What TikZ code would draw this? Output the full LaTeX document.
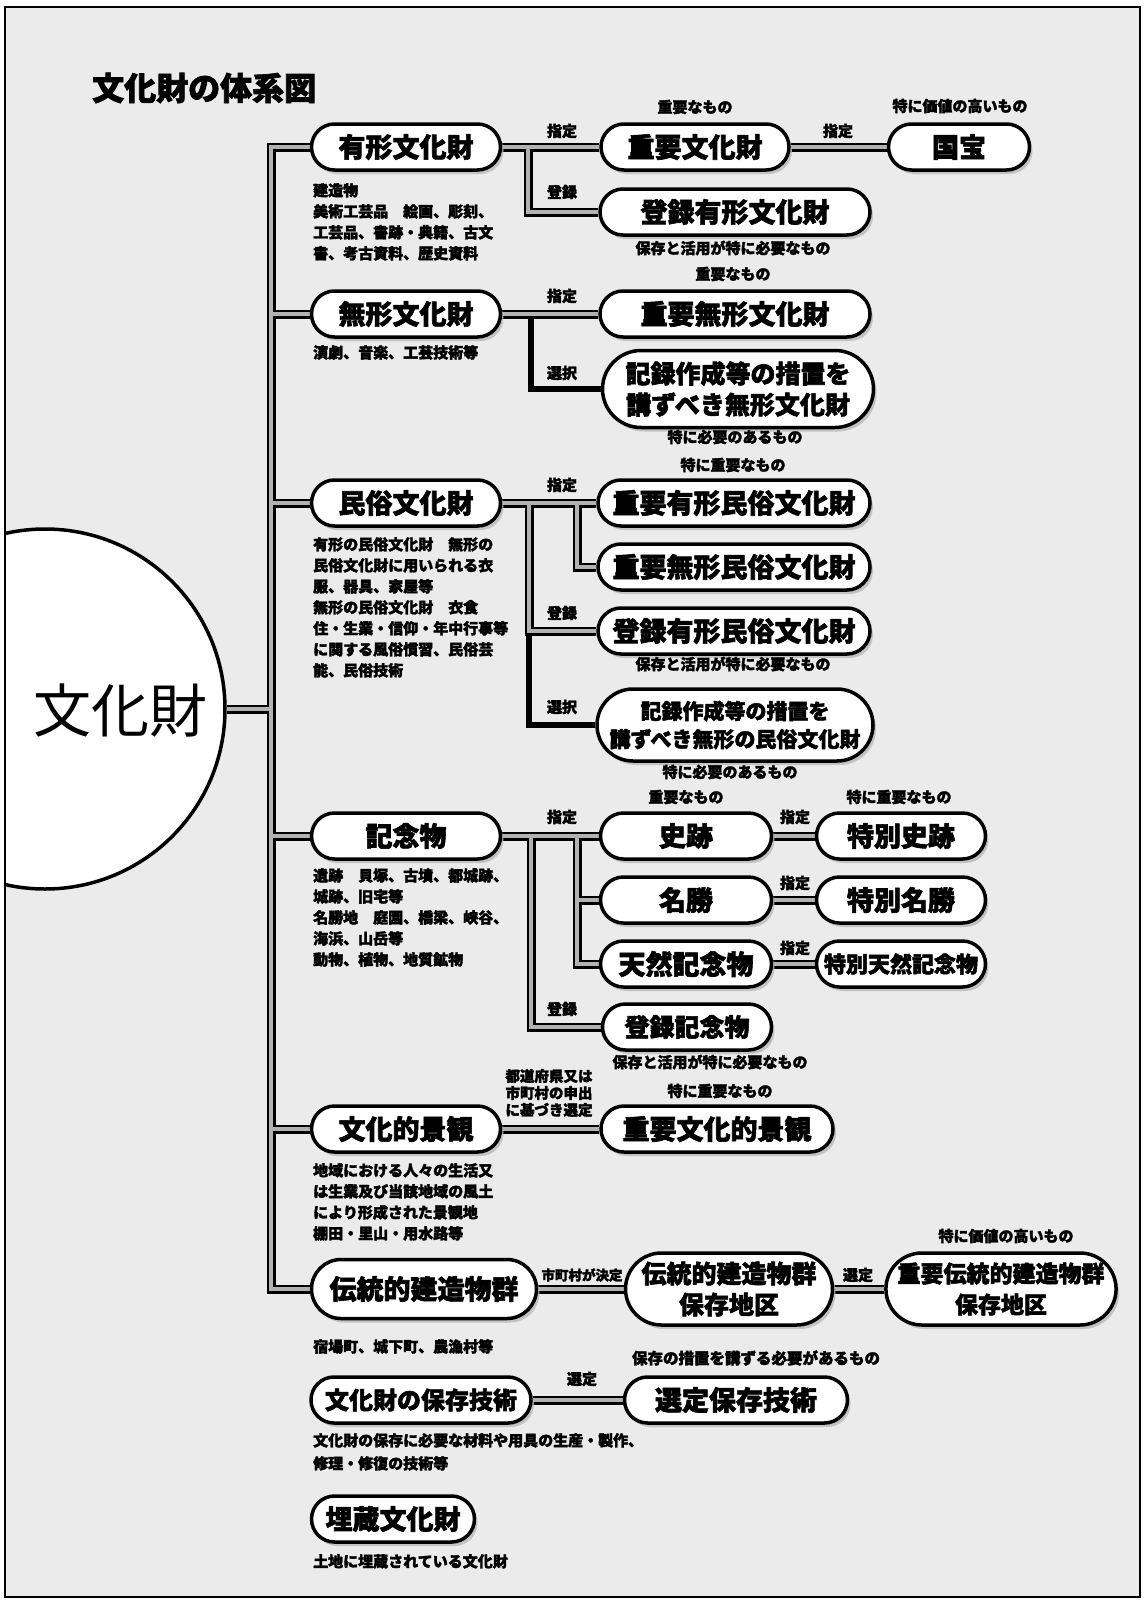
\documentclass[tikz,border=0pt]{standalone}
\usepackage{fontspec}
\newfontfamily\cjk{Noto Sans CJK JP}[BoldFeatures={FakeBold=2.2}]
\usetikzlibrary{shapes.misc,shadows,backgrounds}
\newcommand{\bx}[2]{\cjk\bfseries\fontsize{#1}{#2}\selectfont}
\newcommand{\conns}{%
  \path[cp] (yk.west) -| (T) |- (den.west);
  \path[cp] (mk.west) -- (mk.west -| T);
  \path[cp] (mz.west) -- (mz.west -| T);
  \path[cp] (kn.west) -- (kn.west -| T);
  \path[cp] (kk.west) -- (kk.west -| T);
  \path[cp] (circ.east) -- (T);
  % yukei
  \path[cp] (yk.east) -- (jb.west);
  \path[cp] (j1) |- (tor.west);
  \path[cp] (jb.east) -- (kh.west);
  % mukei
  \path[cp] (mk.east) -- (jm.west);
  \path[cps] (j2) |- (kr1.west);
  % minzoku
  \path[cp] (mz.east) -- (jym.west);
  \path[cp] (j3) |- (tym.west);
  \path[cps] (j3b) |- (kr2.west);
  \path[cp] (j4) |- (jmm.west);
  % kinenbutsu
  \path[cp] (kn.east) -- (sse.west);
  \path[cp] (j5) |- (tkn.west);
  \path[cp] (j6) |- (tnk.west);
  \path[cp] (j6b) -- (msh.west);
  \path[cp] (sse.east) -- (tss.west);
  \path[cp] (msh.east) -- (tms.west);
  \path[cp] (tnk.east) -- (ttn.west);
  % keikan
  \path[cp] (kk.east) -- (jk.west);
  % dentou
  \path[cp] (den.east) -- (dhc.west);
  \path[cp] (dhc.east) -- (jdh.west);
  % gijutsu
  \path[cp] (hg.east) -- (sh.west);
}
\begin{document}
\begin{tikzpicture}[x=1pt,y=-1pt,
  box/.style={shape=rounded rectangle, draw=black, line width=3.5pt, fill=white,
    minimum height=46pt, inner sep=0pt, align=center, font=\bx{27}{31},
    drop shadow={shadow xshift=3pt, shadow yshift=-4pt, fill=gray!55, opacity=0.8}},
  lbl/.style={font=\bx{15}{17}, inner sep=0pt},
  desc/.style={font=\bx{15}{21}, align=left, anchor=north west, inner sep=0pt},
]
\useasboundingbox (0,0) rectangle (1145,1601);

% coordinates
\coordinate (T) at (271,709);
\coordinate (j1) at (528,147);
\coordinate (j2) at (531,314);
\coordinate (j3) at (529,503);
\coordinate (j3b) at (529,631);
\coordinate (j4) at (577,503);
\coordinate (j5) at (531,836);
\coordinate (j6) at (577,836);
\coordinate (j6b) at (577,900);

% title
\node[anchor=west, font=\bx{32}{36}, inner sep=0pt] (title) at (92,88) {文化財の体系図};

% big circle
\begin{scope}
  \clip (5,7) rectangle (1140,1597);
  \node[circle, draw=black, line width=3.5pt, fill=white, minimum size=360pt, inner sep=0pt] (circ) at (45,709) {};
\end{scope}
\node[font=\cjk\fontsize{58}{60}\selectfont, inner sep=0pt] (bz) at (121,710) {文化財};

% left column
\node[box, minimum width=189pt] (yk) at (406,147) {有形文化財};
\node[box, minimum width=189pt] (mk) at (406,314) {無形文化財};
\node[box, minimum width=189pt] (mz) at (406,503) {民俗文化財};
\node[box, minimum width=189pt] (kn) at (406,836) {記念物};
\node[box, minimum width=189pt] (kk) at (406,1129) {文化的景観};
\node[box, minimum width=225pt, minimum height=59pt] (den) at (424,1289) {伝統的建造物群};
\node[box, minimum width=220pt, font=\bx{24}{28}] (hg) at (421,1400) {文化財の保存技術};
\node[box, minimum width=163pt] (mai) at (393,1519) {埋蔵文化財};

% right column
\node[box, minimum width=188pt] (jb) at (695,147) {重要文化財};
\node[box, minimum width=141pt] (kh) at (959,147) {国宝};
\node[box, minimum width=270pt] (tor) at (735,212) {登録有形文化財};
\node[box, minimum width=270pt] (jm) at (735,314) {重要無形文化財};
\node[box, minimum width=271pt, minimum height=77pt, font=\bx{25}{31}] (kr1) at (738,389) {記録作成等の措置を\\講ずべき無形文化財};
\node[box, minimum width=272pt] (jym) at (734,503) {重要有形民俗文化財};
\node[box, minimum width=272pt] (jmm) at (734,567) {重要無形民俗文化財};
\node[box, minimum width=272pt] (tym) at (734,631) {登録有形民俗文化財};
\node[box, minimum width=276pt, minimum height=72pt, font=\bx{21}{28}] (kr2) at (735,725) {記録作成等の措置を\\講ずべき無形の民俗文化財};
\node[box, minimum width=171pt] (sse) at (686,836) {史跡};
\node[box, minimum width=169pt] (tss) at (901,836) {特別史跡};
\node[box, minimum width=171pt] (msh) at (686,900) {名勝};
\node[box, minimum width=169pt] (tms) at (901,900) {特別名勝};
\node[box, minimum width=171pt] (tnk) at (686,964) {天然記念物};
\node[box, minimum width=169pt, font=\bx{22}{26}] (ttn) at (901,964) {特別天然記念物};
\node[box, minimum width=169pt, font=\bx{25}{29}] (tkn) at (687,1027) {登録記念物};
\node[box, minimum width=232pt] (jk) at (717,1129) {重要文化的景観};
\node[box, minimum width=207pt, minimum height=72pt, font=\bx{25}{31}] (dhc) at (729,1289) {伝統的建造物群\\保存地区};
\node[box, minimum width=225pt, minimum height=72pt, font=\bx{23}{31}] (jdh) at (1001,1289) {重要伝統的建造物群\\保存地区};
\node[box, minimum width=223pt] (sh) at (736,1400) {選定保存技術};

% connectors
\begin{scope}[on background layer]
  \fill[white] (0,0) rectangle (1145,1601);
  \fill[gray!16] (5,7) rectangle (1140,1597);
  \begin{scope}[cp/.style={draw=black, line width=9pt}, cps/.style={draw=black, line width=6pt}]
    \conns
  \end{scope}
  \begin{scope}[cp/.style={draw=gray!60, line width=4pt}, cps/.style={draw=none}]
    \conns
  \end{scope}
\end{scope}
\draw[black, line width=2pt] (5,7) rectangle (1140,1597);

% labels on connectors
\node[lbl] (l1) at (562,131) {指定};
\node[lbl] (l2) at (838,131) {指定};
\node[lbl] (l3) at (562,192) {登録};
\node[lbl] (l4) at (562,296) {指定};
\node[lbl] (l5) at (562,373) {選択};
\node[lbl] (l6) at (562,485) {指定};
\node[lbl] (l7) at (562,613) {登録};
\node[lbl] (l8) at (562,707) {選択};
\node[lbl] (l9) at (562,817) {指定};
\node[lbl] (l10) at (795,817) {指定};
\node[lbl] (l11) at (795,883) {指定};
\node[lbl] (l12) at (795,948) {指定};
\node[lbl] (l13) at (562,1009) {登録};
\node[lbl, align=center, font=\bx{14.5}{17}] (l14) at (549,1093) {都道府県又は\\市町村の申出\\に基づき選定};
\node[lbl, font=\bx{13.5}{16}] (l15) at (582,1275) {市町村が決定};
\node[lbl] (l16) at (858,1275) {選定};
\node[lbl] (l17) at (582,1379) {選定};

% notes
\node[lbl] (n1) at (695,107) {重要なもの};
\node[lbl] (n2) at (960,106) {特に価値の高いもの};
\node[lbl] (n3) at (733,248) {保存と活用が特に必要なもの};
\node[lbl] (n4) at (733,274) {重要なもの};
\node[lbl] (n5) at (735,437) {特に必要のあるもの};
\node[lbl] (n6) at (733,465) {特に重要なもの};
\node[lbl] (n7) at (733,664) {保存と活用が特に必要なもの};
\node[lbl] (n8) at (730,772) {特に必要のあるもの};
\node[lbl] (n9) at (686,797) {重要なもの};
\node[lbl] (n10) at (899,797) {特に重要なもの};
\node[lbl] (n11) at (710,1062) {保存と活用が特に必要なもの};
\node[lbl] (n12) at (720,1091) {特に重要なもの};
\node[lbl] (n13) at (1006,1236) {特に価値の高いもの};
\node[lbl, font=\bx{15.5}{17}] (n14) at (756,1358) {保存の措置を講ずる必要があるもの};

% descriptions
\node[desc] (d1) at (313,183) {建造物\\美術工芸品　絵画、彫刻、\\工芸品、書跡・典籍、古文\\書、考古資料、歴史資料};
\node[desc] (d2) at (313,345) {演劇、音楽、工芸技術等};
\node[desc] (d3) at (313,537) {有形の民俗文化財　無形の\\民俗文化財に用いられる衣\\服、器具、家屋等\\無形の民俗文化財　衣食\\住・生業・信仰・年中行事等\\に関する風俗慣習、民俗芸\\能、民俗技術};
\node[desc] (d4) at (313,868) {遺跡　貝塚、古墳、都城跡、\\城跡、旧宅等\\名勝地　庭園、橋梁、峡谷、\\海浜、山岳等\\動物、植物、地質鉱物};
\node[desc] (d5) at (313,1163) {地域における人々の生活又\\は生業及び当該地域の風土\\により形成された景観地\\棚田・里山・用水路等};
\node[desc] (d6) at (313,1339) {宿場町、城下町、農漁村等};
\node[desc, font=\bx{15}{23}] (d7) at (313,1433) {文化財の保存に必要な材料や用具の生産・製作、\\修理・修復の技術等};
\node[desc] (d8) at (313,1554) {土地に埋蔵されている文化財};
\end{tikzpicture}
\end{document}
